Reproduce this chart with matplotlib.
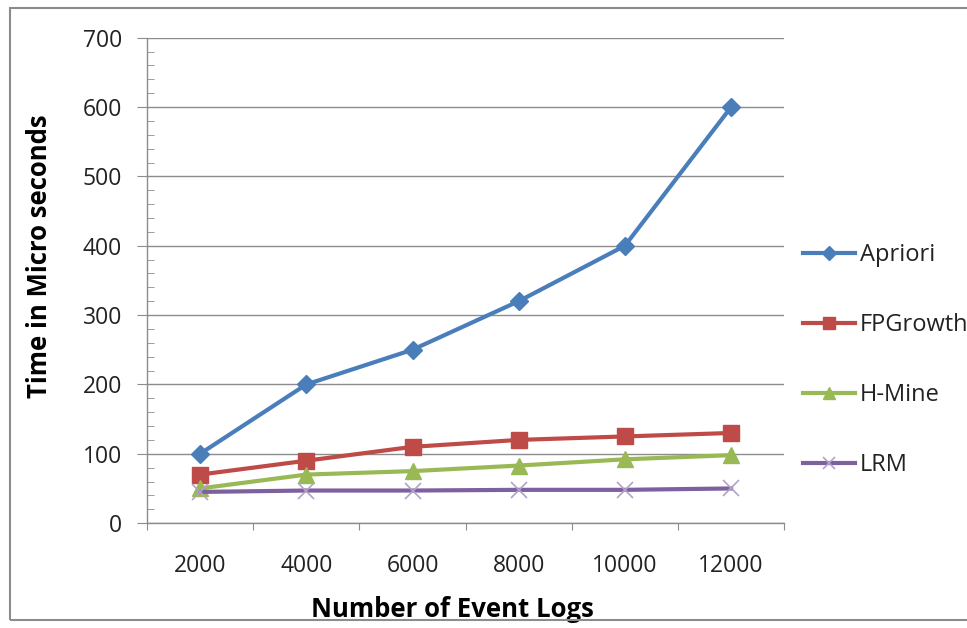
import numpy as np
import matplotlib.pyplot as plt
from matplotlib.patches import Rectangle

plt.rcParams['font.family'] = ['Open Sans', 'DejaVu Sans']

event_logs = ["2000", "4000", "6000", "8000", "10000", "12000"]
apriori = [100, 200, 250, 320, 400, 600]
fpgrowth = [70, 90, 110, 120, 125, 130]
hmine = [50, 70, 75, 83, 92, 98]
lrm = [45, 47, 47, 48, 48, 50]

fig = plt.figure(figsize=(9.67, 6.28), dpi=100)
ax = fig.add_axes([0.152, 0.167, 0.659, 0.773])

x = np.arange(len(event_logs)) + 0.5
ax.plot(x, apriori, color='#4A7EBB', lw=3, marker='D', ms=9, label="Apriori")
ax.plot(x, fpgrowth, color='#BE4B48', lw=3, marker='s', ms=11, label="FPGrowth")
ax.plot(x, hmine, color='#98B954', lw=3, marker='^', ms=11, label="H-Mine")
ax.plot(x, lrm, color='#7D60A0', lw=3, marker='x', ms=11, mew=1.2,
        mec='#B3A2C7', label="LRM")

ax.set_xlim(0, len(event_logs))
ax.set_ylim(0, 700)
ax.set_yticks(np.arange(0, 701, 100))
ax.set_yticks(np.arange(0, 701, 20), minor=True)
ax.set_xticks(np.arange(0, len(event_logs) + 1))
ax.set_xticklabels([])
ax.set_xticks(x, minor=True)
ax.set_xticklabels(event_logs, minor=True)

ax.grid(axis='y', which='major', color='#8C8C8C', lw=1)
ax.set_axisbelow(True)
for s in ['top', 'right']:
    ax.spines[s].set_visible(False)
for s in ['left', 'bottom']:
    ax.spines[s].set_color('#8C8C8C')
    ax.spines[s].set_linewidth(1)

ax.tick_params(axis='y', which='major', direction='out', length=7,
               color='#8C8C8C', labelsize=16.5, pad=11, labelcolor='#222222')
ax.tick_params(axis='y', which='minor', direction='in', length=5,
               color='#8C8C8C')
ax.tick_params(axis='x', which='major', direction='out', length=5,
               color='#8C8C8C')
ax.tick_params(axis='x', which='minor', length=0, labelsize=16.5, pad=22,
               labelcolor='#222222')

ax.set_ylabel("Time in Micro seconds", fontsize=18.5, fontweight='bold', va='center')
ax.yaxis.set_label_coords(-0.168, 0.55)
ax.set_xlabel("Number of Event Logs", fontsize=18.5, fontweight='bold', va='center')
ax.xaxis.set_label_coords(0.48, -0.177)

leg = ax.legend(loc='center left', bbox_to_anchor=(1.03, 0.336), frameon=False,
                fontsize=17, handlelength=2.2, handletextpad=0.2, labelspacing=1.95,
                borderpad=0, borderaxespad=0, markerscale=0.75)
for t in leg.get_texts():
    t.set_color('#222222')

fig.patches.append(Rectangle((0.0105, 0.013), 1.2, 0.974, transform=fig.transFigure,
                             fill=False, ec='#8C8C8C', lw=1.5))

plt.savefig('out.png')
